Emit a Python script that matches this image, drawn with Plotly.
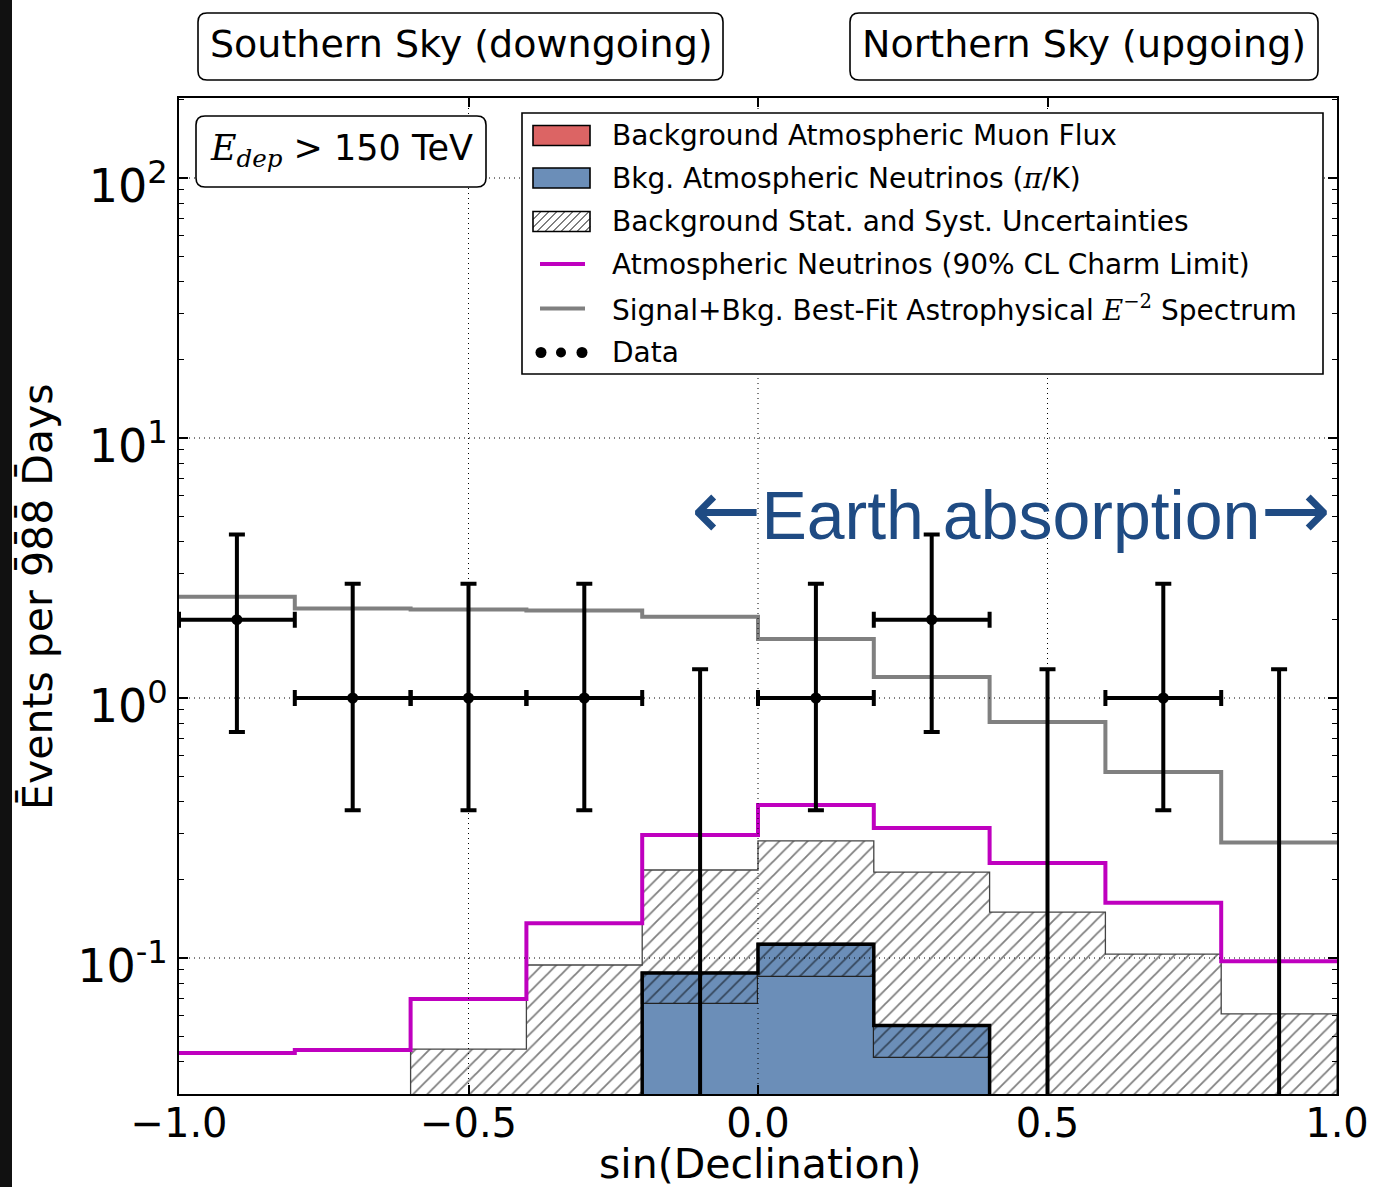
import plotly.graph_objects as go

# ---- binning in sin(declination) ----
bin_edges = [-1.0, -0.8, -0.6, -0.4, -0.2, 0.0, 0.2, 0.4, 0.6, 0.8, 1.0]
bin_centers = [-0.9, -0.7, -0.5, -0.3, -0.1, 0.1, 0.3, 0.5, 0.7, 0.9]

# ---- expectations (events per 988 days) ----
muon_flux = [0, 0, 0, 0, 0, 0, 0, 0, 0, 0]
conv_nu = [None, None, None, None, 0.0666, 0.0845, 0.0412, None, None, None]
conv_nu_upper = [None, None, None, None, 0.0876, 0.113, 0.055, None, None, None]
bkg_unc_upper = [None, None, 0.0446, 0.094, 0.218, 0.282, 0.214, 0.150, 0.1035, 0.061]
charm_limit = [0.0431, 0.0443, 0.0695, 0.136, 0.297, 0.388, 0.316, 0.232, 0.163, 0.0971]
signal_bkg = [2.45, 2.21, 2.19, 2.17, 2.055, 1.686, 1.205, 0.808, 0.519, 0.278]

# ---- observed events with Feldman-Cousins intervals ----
data_counts = [2, 1, 1, 1, 0, 1, 2, 0, 1, 0]
fc_lower = [0.74, 0.37, 0.37, 0.37, 0.0, 0.37, 0.74, 0.0, 0.37, 0.0]
fc_upper = [4.25, 2.75, 2.75, 2.75, 1.29, 2.75, 4.25, 1.29, 2.75, 1.29]

legend_labels = [
    "Background Atmospheric Muon Flux",
    "Bkg. Atmospheric Neutrinos (<span style=\"font-family:'DejaVu Serif'\"><i>π</i></span>/K)",
    "Background Stat. and Syst. Uncertainties",
    "Atmospheric Neutrinos (90% CL Charm Limit)",
    "Signal+Bkg. Best-Fit Astrophysical <span style=\"font-family:'DejaVu Serif'\"><i>E</i><sup>−2</sup></span> Spectrum",
    "Data",
]

xtick_vals = [-1.0, -0.5, 0.0, 0.5, 1.0]
xtick_text = ["−1.0", "−0.5", "0.0", "0.5", "1.0"]
ytick_vals = [0.1, 1, 10, 100]
ytick_text = ["10<sup>-1</sup>", "10<sup>0</sup>", "10<sup>1</sup>", "10<sup>2</sup>"]

MUON_RED = "#dc6464"
NU_BLUE = "#6b8eb8"
CHARM_MAGENTA = "#bf00bf"
FIT_GRAY = "#808080"
EARTH_BLUE = "#1f4b83"
FONT = "DejaVu Sans"
FLOOR = 1e-3  # below the visible range, so outlines run into the bottom axis

W, H = 1381, 1187
ML, MR, MT, MB = 179, 44, 98, 93
PW, PH = W - ML - MR, H - MT - MB


def px(x):
    return (x - ML) / PW


def py(y):
    return (H - MB - y) / PH


def step_xy(edges, vals):
    """Closed-at-the-bottom step outline for the non-empty bins."""
    idx = [i for i, v in enumerate(vals) if v]
    i0, i1 = idx[0], idx[-1]
    xs = [edges[i0]] + edges[i0:i1 + 1] + [edges[i1 + 1], edges[i1 + 1]]
    ys = [FLOOR] + [vals[i] for i in range(i0, i1 + 1)] + [vals[i1], FLOOR]
    return xs, ys


def open_step_xy(edges, vals):
    return list(edges), list(vals) + [vals[-1]]


def rrect_path(x0, y0, x1, y1, r):
    def p(a, b):
        return f"{px(a):.5f},{py(b):.5f}"
    return (f"M {p(x0 + r, y0)} L {p(x1 - r, y0)} Q {p(x1, y0)} {p(x1, y0 + r)} "
            f"L {p(x1, y1 - r)} Q {p(x1, y1)} {p(x1 - r, y1)} "
            f"L {p(x0 + r, y1)} Q {p(x0, y1)} {p(x0, y1 - r)} "
            f"L {p(x0, y0 + r)} Q {p(x0, y0)} {p(x0 + r, y0)} Z")


fig = go.Figure()

# background uncertainty band (hatched)
fig.add_trace(go.Bar(
    x=bin_centers, y=bkg_unc_upper, width=0.2,
    marker=dict(color="white", line=dict(width=0),
                pattern=dict(shape="/", fgcolor="black", bgcolor="white", size=10, solidity=0.18)),
    showlegend=False, hoverinfo="skip"))

# atmospheric muons (no entries in the visible range)
fig.add_trace(go.Bar(x=bin_centers, y=muon_flux, width=0.2,
                     marker=dict(color=MUON_RED, line=dict(width=0)),
                     showlegend=False, hoverinfo="skip"))

# conventional atmospheric neutrinos
fig.add_trace(go.Bar(x=bin_centers, y=conv_nu, width=0.2,
                     marker=dict(color=NU_BLUE, line=dict(width=0)),
                     showlegend=False, hoverinfo="skip"))

conv_nu_span = [(u - l) if (u and l) else None for u, l in zip(conv_nu_upper, conv_nu)]
fig.add_trace(go.Bar(
    x=bin_centers, y=conv_nu_span, base=conv_nu, width=0.2,
    marker=dict(color=NU_BLUE, line=dict(width=1.2, color="#222"),
                pattern=dict(shape="/", fgcolor="black", bgcolor=NU_BLUE, size=10, solidity=0.18)),
    showlegend=False, hoverinfo="skip"))

# outline of the uncertainty band
bx, by = step_xy(bin_edges, bkg_unc_upper)
fig.add_trace(go.Scatter(x=bx, y=by, mode="lines", line=dict(color="#444", width=1.3, shape="hv"),
                         showlegend=False, hoverinfo="skip"))

# outline of the neutrino histogram
nx, ny = step_xy(bin_edges, conv_nu_upper)
fig.add_trace(go.Scatter(x=nx, y=ny, mode="lines", line=dict(color="black", width=3.5, shape="hv"),
                         showlegend=False, hoverinfo="skip"))

# charm limit and best fit
cx, cy = open_step_xy(bin_edges, charm_limit)
fig.add_trace(go.Scatter(x=cx, y=cy, mode="lines", line=dict(color=CHARM_MAGENTA, width=4, shape="hv"),
                         showlegend=False, hoverinfo="skip"))
sx, sy = open_step_xy(bin_edges, signal_bkg)
fig.add_trace(go.Scatter(x=sx, y=sy, mode="lines", line=dict(color=FIT_GRAY, width=4, shape="hv"),
                         showlegend=False, hoverinfo="skip"))

# observed events
obs = [i for i, n in enumerate(data_counts) if n > 0]
fig.add_trace(go.Scatter(
    x=[bin_centers[i] for i in obs], y=[data_counts[i] for i in obs], mode="markers",
    marker=dict(color="black", size=11),
    error_y=dict(type="data", symmetric=False,
                 array=[fc_upper[i] - data_counts[i] for i in obs],
                 arrayminus=[data_counts[i] - fc_lower[i] for i in obs],
                 color="black", thickness=4, width=8),
    error_x=dict(type="constant", value=0.1, color="black", thickness=4, width=8),
    showlegend=False, hoverinfo="skip"))

empty = [i for i, n in enumerate(data_counts) if n == 0]
fig.add_trace(go.Scatter(
    x=[bin_centers[i] for i in empty], y=[FLOOR for _ in empty], mode="markers",
    marker=dict(color="black", size=0.1, opacity=0),
    error_y=dict(type="data", symmetric=False,
                 array=[fc_upper[i] - FLOOR for i in empty], arrayminus=[0 for _ in empty],
                 color="black", thickness=4, width=8),
    showlegend=False, hoverinfo="skip"))

shapes = []
# dotted grid drawn over the histograms
for gx in [-0.5, 0.0, 0.5]:
    shapes.append(dict(type="line", xref="x", yref="paper", x0=gx, x1=gx, y0=0, y1=1,
                       line=dict(color="black", width=1, dash="1px,4px"), layer="above"))
for gy in ytick_vals:
    shapes.append(dict(type="line", xref="paper", yref="y", x0=0, x1=1, y0=gy, y1=gy,
                       line=dict(color="black", width=1, dash="1px,4px"), layer="above"))

# header boxes and energy-cut box
for (x0, y0, x1, y1) in [(198, 13, 723, 80), (850, 13, 1318, 80), (196, 116, 486, 187)]:
    shapes.append(dict(type="path", xref="paper", yref="paper", path=rrect_path(x0, y0, x1, y1, 9),
                       line=dict(color="black", width=1.6), fillcolor="white", layer="above"))

# legend frame
LG_X0, LG_Y0, LG_X1, LG_Y1 = 522, 113, 1323, 374
shapes.append(dict(type="rect", xref="paper", yref="paper",
                   x0=px(LG_X0), x1=px(LG_X1), y0=py(LG_Y1), y1=py(LG_Y0),
                   line=dict(color="black", width=1.6), fillcolor="white", layer="above"))

row_y = [135.5, 178, 221.5, 264, 308.5, 352.5]
PX0, PX1 = 533, 590
# patch handles
for yc, col in [(row_y[0], MUON_RED), (row_y[1], NU_BLUE), (row_y[2], "white")]:
    shapes.append(dict(type="rect", xref="paper", yref="paper",
                       x0=px(PX0), x1=px(PX1), y0=py(yc + 10), y1=py(yc - 10),
                       line=dict(color="black", width=1.6), fillcolor=col, layer="above"))
# hatch inside the uncertainty handle
hy0, hy1 = row_y[2] + 10, row_y[2] - 10
hh = hy0 - hy1
segs = []
t = -hh
while t < PX1 - PX0:
    s0, s1 = max(0.0, -t), min(hh, (PX1 - PX0) - t)
    if s1 > s0:
        segs.append(f"M {px(PX0 + t + s0):.5f},{py(hy0 - s0):.5f} L {px(PX0 + t + s1):.5f},{py(hy0 - s1):.5f}")
    t += 8
shapes.append(dict(type="path", xref="paper", yref="paper", path=" ".join(segs),
                   line=dict(color="black", width=1), layer="above"))
# line handles
for yc, col in [(row_y[3], CHARM_MAGENTA), (row_y[4], FIT_GRAY)]:
    shapes.append(dict(type="line", xref="paper", yref="paper", x0=px(540), x1=px(585),
                       y0=py(yc), y1=py(yc), line=dict(color=col, width=4), layer="above"))
# marker handle
for dx, r in [(541, 5.5), (561, 5.0), (582, 5.5)]:
    shapes.append(dict(type="circle", xref="paper", yref="paper",
                       x0=px(dx - r), x1=px(dx + r), y0=py(row_y[5] + r), y1=py(row_y[5] - r),
                       line=dict(width=0), fillcolor="black", layer="above"))

# dark strip along the left edge of the canvas
shapes.append(dict(type="rect", xref="paper", yref="paper", x0=px(0), x1=px(12), y0=py(H), y1=py(0),
                   line=dict(width=0), fillcolor="#111111", layer="above"))

annotations = []
for txt, yc in zip(legend_labels, row_y):
    annotations.append(dict(text=txt, xref="paper", yref="paper", x=px(610), y=py(yc),
                            xanchor="left", yanchor="middle", showarrow=False,
                            font=dict(family=FONT, size=28, color="black")))

ARROW = "<span style=\"font-family:'DejaVu Sans';font-size:84px\">{}</span>"
annotations += [
    dict(text="Southern Sky (downgoing)", xref="paper", yref="paper", x=px(461), y=py(44),
         xanchor="center", yanchor="middle", showarrow=False, font=dict(family=FONT, size=38, color="black")),
    dict(text="Northern Sky (upgoing)", xref="paper", yref="paper", x=px(1084), y=py(44),
         xanchor="center", yanchor="middle", showarrow=False, font=dict(family=FONT, size=38, color="black")),
    dict(text="<span style=\"font-family:'DejaVu Serif'\"><i>E</i><sub><i>dep</i></sub></span> > 150 TeV",
         xref="paper", yref="paper", x=px(341), y=py(150),
         xanchor="center", yanchor="middle", showarrow=False, font=dict(family=FONT, size=35, color="black")),
    dict(text=ARROW.format("←") + "Earth absorption" + ARROW.format("→"),
         xref="paper", yref="paper", x=px(1011), y=py(510),
         xanchor="center", yanchor="middle", showarrow=False,
         font=dict(family="Liberation Sans", size=68, color=EARTH_BLUE)),
    dict(text="sin(Declination)", xref="paper", yref="paper", x=px(760), y=py(1164),
         xanchor="center", yanchor="middle", showarrow=False, font=dict(family=FONT, size=41, color="black")),
    dict(text="E\u0304vents per 9\u03048\u03048\u0304 D\u0304ays", xref="paper", yref="paper",
         x=px(38), y=py(597), textangle=-90,
         xanchor="center", yanchor="middle", showarrow=False, font=dict(family=FONT, size=41, color="black")),
]

minor_vals = [m * 10 ** k for k in range(-2, 3) for m in range(2, 10)]

fig.update_layout(
    width=W, height=H, autosize=False,
    margin=dict(l=ML, r=MR, t=MT, b=MB),
    paper_bgcolor="white", plot_bgcolor="white",
    barmode="overlay", bargap=0,
    showlegend=False,
    shapes=shapes, annotations=annotations,
    font=dict(family=FONT, color="black"),
    xaxis=dict(range=[-1, 1], tickmode="array", tickvals=xtick_vals, ticktext=xtick_text,
               showgrid=False, zeroline=False, showline=True, linecolor="black", linewidth=2,
               mirror="allticks", ticks="inside", ticklen=9, tickwidth=1.5, tickcolor="black",
               ticklabelstandoff=-7,
               tickfont=dict(family=FONT, size=40, color="black")),
    yaxis=dict(type="log", range=[-1.5231, 2.3077], tickmode="array", tickvals=ytick_vals,
               ticktext=ytick_text, showgrid=False, zeroline=False, showline=True,
               linecolor="black", linewidth=2, mirror="allticks", ticks="inside", ticklen=9,
               tickwidth=1.5, tickcolor="black", ticklabelshift=8,
               minor=dict(tickmode="array", tickvals=minor_vals, ticks="inside", ticklen=5,
                          tickwidth=1.2, tickcolor="black", showgrid=False),
               tickfont=dict(family=FONT, size=46, color="black")),
)

fig.write_html("out.html")
